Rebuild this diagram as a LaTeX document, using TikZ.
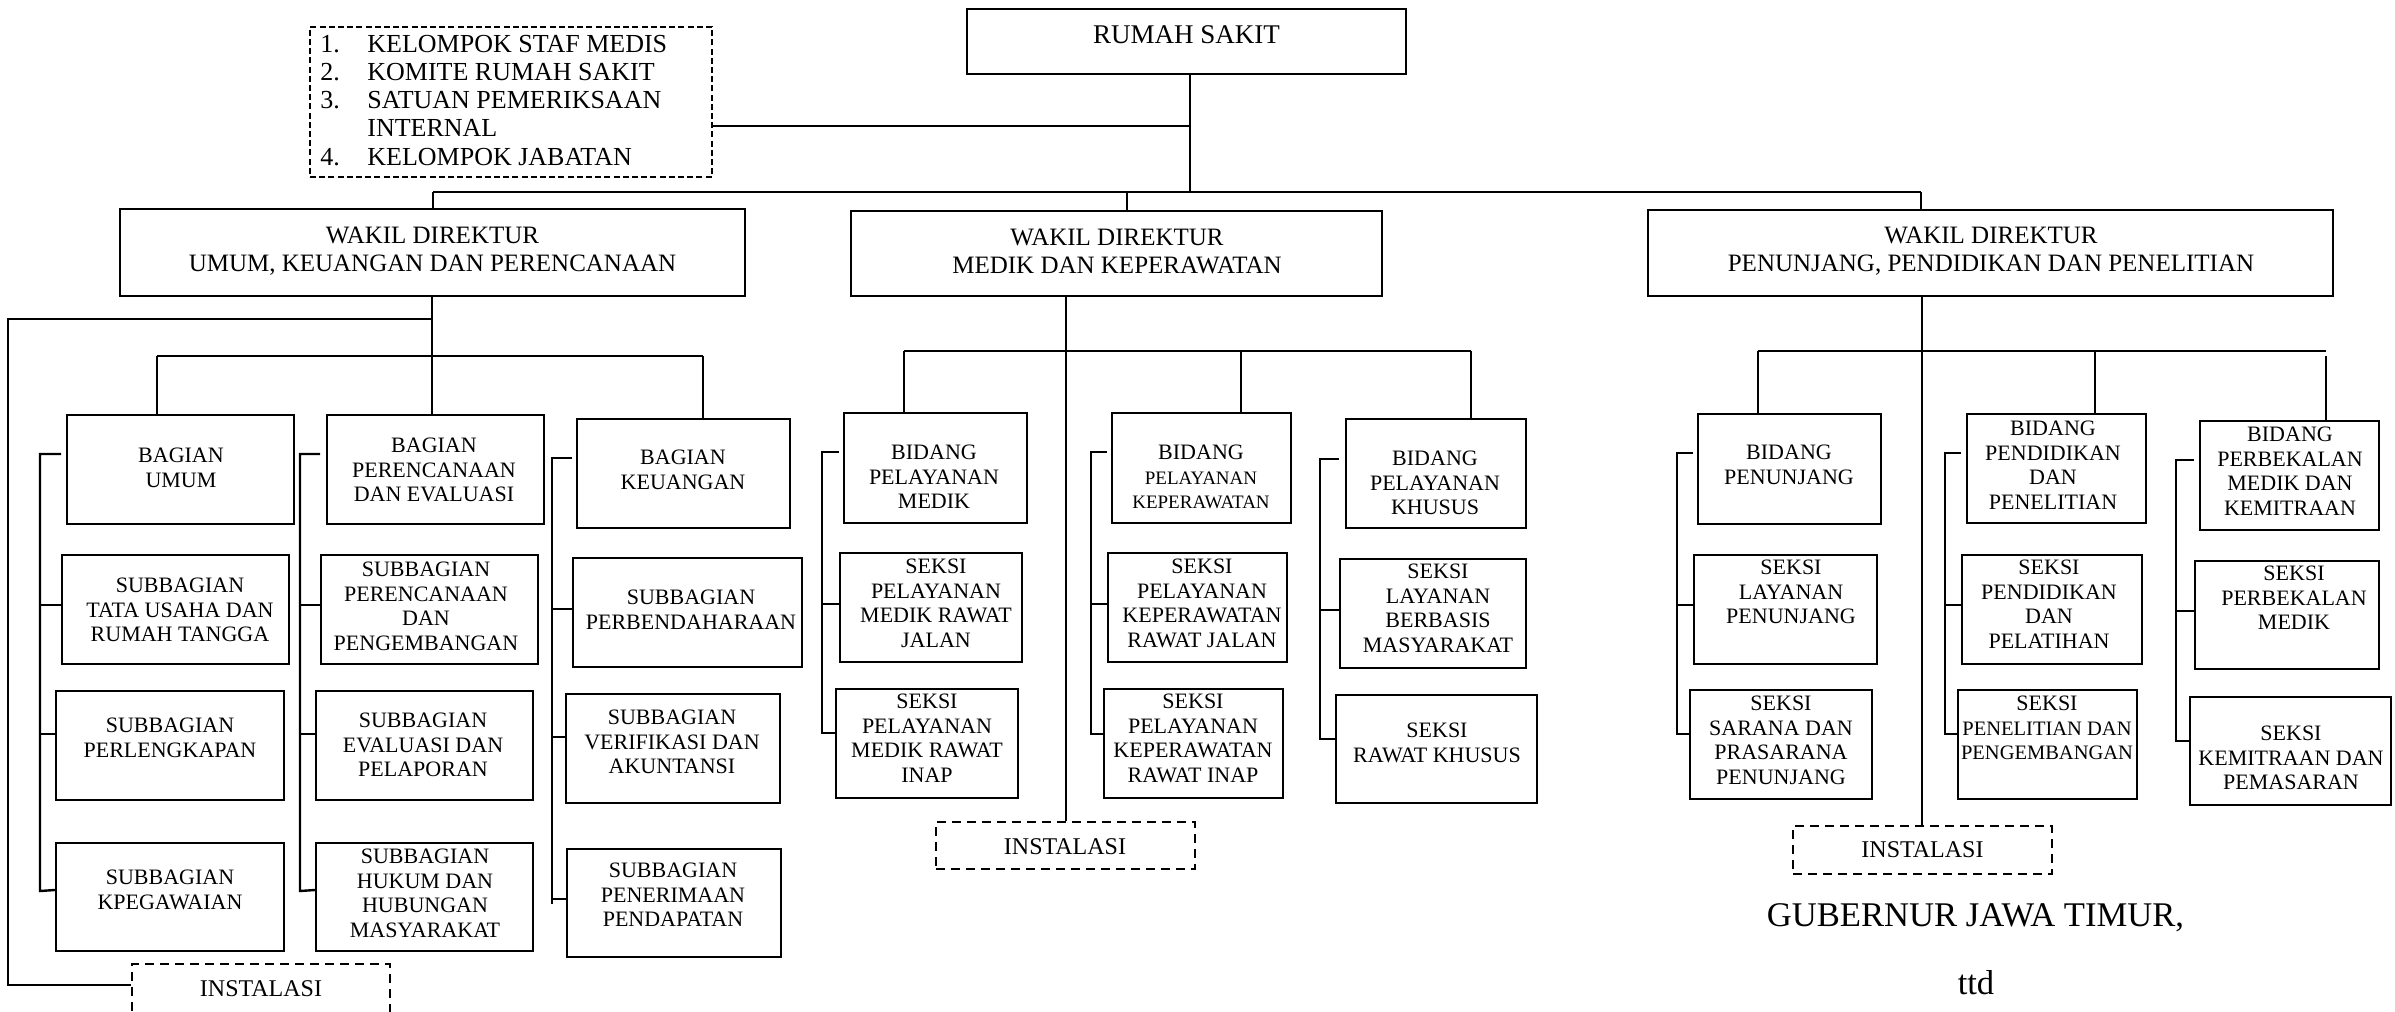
\documentclass[tikz,border=0pt]{standalone}
\usepackage{fontspec}
\setmainfont{Liberation Serif}
\usetikzlibrary{fit}
\newcommand\fsbox{\fontsize{11pt}{12.25pt}\selectfont}
\newcommand\fsmall{\fontsize{9.5pt}{11.25pt}\selectfont}
\newcommand\fsmaller{\fontsize{10.25pt}{11pt}\selectfont}
\newcommand\fswakil{\fontsize{12.5pt}{14pt}\selectfont}
\newcommand\fsrs{\fontsize{13.5pt}{15pt}\selectfont}
\newcommand\fslist{\fontsize{13pt}{14.15pt}\selectfont}
\newcommand\fsinst{\fontsize{12pt}{14pt}\selectfont}
\newcommand\fsgub{\fontsize{17.3pt}{20pt}\selectfont}
\tikzset{
  box/.style={draw, line width=1pt, inner sep=0pt},
  dlist/.style={draw, line width=0.8pt, dash pattern=on 3pt off 1.6pt, inner sep=0pt},
  dinst/.style={draw, line width=1pt, dash pattern=on 4.5pt off 3pt, inner sep=0pt},
  txt/.style={inner sep=0pt, align=center, font=\fsbox},
  conn/.style={line width=1.2pt},
}
\newcommand\obox[8]{%
  \node[box, fit={(#2,#3) (#4,#5)}] (#1) {};
  \node[txt, anchor=north] (#1-t) at (#6,#7) {#8};}
\begin{document}
\begin{tikzpicture}[x=0.5pt,y=-0.5pt]
\useasboundingbox (0,0) rectangle (2395,1012);
\fill[white] (0,0) rectangle (2395,1012);
\clip (0,0) rectangle (2395,1012);

% ---------- top level ----------
\node[box, fit={(967,9) (1406,74)}] (RS) {};
\node[txt, font=\fsrs, anchor=north] (RS-t) at (1186.5,25) {RUMAH SAKIT};

\node[dlist, fit={(310,27) (712,177)}] (list) {};
\node[anchor=north west, inner sep=0pt, align=left, font=\fslist] (list-t) at (320,34.4)
  {\makebox[23.5pt][l]{1.}KELOMPOK STAF MEDIS\\
   \makebox[23.5pt][l]{2.}KOMITE RUMAH SAKIT\\
   \makebox[23.5pt][l]{3.}SATUAN PEMERIKSAAN\\
   \makebox[23.5pt][l]{}INTERNAL\\
   \makebox[23.5pt][l]{4.}KELOMPOK JABATAN};

\node[box, fit={(120,209) (745,296)}] (W1) {};
\node[txt, font=\fswakil, anchor=north] (W1-t) at (432.5,226.5) {WAKIL DIREKTUR\\UMUM, KEUANGAN DAN PERENCANAAN};
\node[box, fit={(851,211) (1382,296)}] (W2) {};
\node[txt, font=\fswakil, anchor=north] (W2-t) at (1117,228.5) {WAKIL DIREKTUR\\MEDIK DAN KEPERAWATAN};
\node[box, fit={(1648,210) (2333,296)}] (W3) {};
\node[txt, font=\fswakil, anchor=north] (W3-t) at (1991,226.5) {WAKIL DIREKTUR\\PENUNJANG, PENDIDIKAN DAN PENELITIAN};

\coordinate (t1) at (1190,192);
\coordinate (tl) at (1190,126);
\coordinate (bL) at (433,192);
\coordinate (d2) at (1127,192);
\coordinate (bR) at (1921,192);
\draw[conn] (RS.south -| t1) -- (t1);
\draw[conn] (list.east |- tl) -- (tl);
\draw[conn] (bL) -- (bR);
\draw[conn] (bL) -- (W1.north -| bL);
\draw[conn] (d2) -- (W2.north -| d2);
\draw[conn] (bR) -- (W3.north -| bR);

% ---------- left branch ----------
\obox{BU}{67}{415}{294}{524}{181}{448}{BAGIAN\\UMUM}
\obox{SA1}{62}{555}{289}{664}{180}{578}{SUBBAGIAN\\TATA USAHA DAN\\RUMAH TANGGA}
\obox{SA2}{56}{691}{284}{800}{170}{718}{SUBBAGIAN\\PERLENGKAPAN}
\obox{SA3}{56}{843}{284}{951}{170}{870}{SUBBAGIAN\\KPEGAWAIAN}
\obox{BP}{327}{415}{544}{524}{434}{438}{BAGIAN\\PERENCANAAN\\DAN EVALUASI}
\obox{SB1}{321}{555}{538}{664}{426}{562}{SUBBAGIAN\\PERENCANAAN\\DAN\\PENGEMBANGAN}
\obox{SB2}{316}{691}{533}{800}{423}{713}{SUBBAGIAN\\EVALUASI DAN\\PELAPORAN}
\obox{SB3}{316}{843}{533}{951}{425}{849}{SUBBAGIAN\\HUKUM DAN\\HUBUNGAN\\MASYARAKAT}
\obox{BK}{577}{419}{790}{528}{683}{450}{BAGIAN\\KEUANGAN}
\obox{SC1}{573}{558}{802}{667}{691}{590}{SUBBAGIAN\\PERBENDAHARAAN}
\obox{SC2}{566}{694}{780}{803}{672}{710}{SUBBAGIAN\\VERIFIKASI DAN\\AKUNTANSI}
\obox{SC3}{567}{849}{781}{957}{673}{863}{SUBBAGIAN\\PENERIMAAN\\PENDAPATAN}

\node[dinst, fit={(132,964) (390,1040)}] (IL) {};
\node[txt, font=\fsinst, anchor=north] (IL-t) at (261,980) {INSTALASI};

\coordinate (a0) at (432,356);
\coordinate (aL) at (157,356);
\coordinate (aR) at (703,356);
\coordinate (i1) at (432,319);
\coordinate (i2) at (8,319);
\coordinate (i3) at (8,985);
\draw[conn] (W1.south -| a0) -- (a0);
\draw[conn] (aL) -- (aR);
\draw[conn] (aL) -- (BU.north -| aL);
\draw[conn] (a0) -- (BP.north -| a0);
\draw[conn] (aR) -- (BK.north -| aR);
\draw[conn] (i1) -- (i2) -- (i3) -- (IL.west |- i3);

\draw[conn] (SA1.west |- 40,454) -- (40,454) -- (40,891) -- (SA3.west |- 40,890);
\draw[conn] (40,605) -- (SA1.west |- 40,605);
\draw[conn] (40,734) -- (SA2.west |- 40,734);
\draw[conn] (SB1.west |- 300,454) -- (300,454) -- (300,891) -- (SB3.west |- 300,890);
\draw[conn] (300,605) -- (SB1.west |- 300,605);
\draw[conn] (300,734) -- (SB2.west |- 300,734);
\draw[conn] (SC1.west |- 552,458) -- (552,458) -- (552,904);
\draw[conn] (552,609) -- (SC1.west |- 552,609);
\draw[conn] (552,737) -- (SC2.west |- 552,737);
\draw[conn] (552,899) -- (SC3.west |- 552,899);

% ---------- middle branch ----------
\obox{BM}{844}{413}{1027}{523}{934}{445}{BIDANG\\PELAYANAN\\MEDIK}
\obox{M11}{840}{553}{1022}{662}{936}{559}{SEKSI\\PELAYANAN\\MEDIK RAWAT\\JALAN}
\obox{M12}{836}{689}{1018}{798}{927}{694}{SEKSI\\PELAYANAN\\MEDIK RAWAT\\INAP}
\obox{BKp}{1112}{413}{1291}{523}{1201}{445}{BIDANG\\\fsmall PELAYANAN\\\fsmall KEPERAWATAN}
\obox{M21}{1108}{553}{1287}{662}{1202}{559}{SEKSI\\PELAYANAN\\KEPERAWATAN\\RAWAT JALAN}
\obox{M22}{1104}{689}{1283}{798}{1193}{694}{SEKSI\\PELAYANAN\\KEPERAWATAN\\RAWAT INAP}
\obox{BKh}{1346}{419}{1526}{528}{1435}{451}{BIDANG\\PELAYANAN\\KHUSUS}
\obox{M31}{1340}{559}{1526}{668}{1438}{564}{SEKSI\\LAYANAN\\BERBASIS\\MASYARAKAT}
\obox{M32}{1336}{695}{1537}{803}{1437}{723}{SEKSI\\RAWAT KHUSUS}

\node[dinst, fit={(936,822) (1195,869)}] (IM) {};
\node[txt, font=\fsinst, anchor=north] (IM-t) at (1065,838) {INSTALASI};

\coordinate (m0) at (1066,351);
\coordinate (mL) at (904,351);
\coordinate (mC) at (1241,351);
\coordinate (mR) at (1471,351);
\draw[conn] (W2.south -| m0) -- (IM.north -| m0);
\draw[conn] (mL) -- (mR);
\draw[conn] (mL) -- (BM.north -| mL);
\draw[conn] (mC) -- (BKp.north -| mC);
\draw[conn] (mR) -- (BKh.north -| mR);

\draw[conn] (M11.west |- 822,452) -- (822,452) -- (822,733) -- (M12.west |- 822,733);
\draw[conn] (822,604) -- (M11.west |- 822,604);
\draw[conn] (M21.west |- 1091,452) -- (1091,452) -- (1091,734) -- (M22.west |- 1091,734);
\draw[conn] (1091,604) -- (M21.west |- 1091,604);
\draw[conn] (M31.west |- 1320,459) -- (1320,459) -- (1320,739) -- (M32.west |- 1320,739);
\draw[conn] (1320,610) -- (M31.west |- 1320,610);

% ---------- right branch ----------
\obox{BPn}{1698}{414}{1881}{524}{1789}{445}{BIDANG\\PENUNJANG}
\obox{R11}{1694}{555}{1877}{664}{1791}{560}{SEKSI\\LAYANAN\\PENUNJANG}
\obox{R12}{1690}{690}{1872}{799}{1781}{696}{SEKSI\\SARANA DAN\\PRASARANA\\PENUNJANG}
\obox{BPd}{1967}{414}{2146}{523}{2053}{421}{BIDANG\\PENDIDIKAN\\DAN\\PENELITIAN}
\obox{R21}{1962}{555}{2142}{664}{2049}{560}{SEKSI\\PENDIDIKAN\\DAN\\PELATIHAN}
\obox{R22}{1958}{690}{2137}{799}{2047}{696}{SEKSI\\\fsmaller PENELITIAN DAN\\\fsmaller PENGEMBANGAN}
\obox{BPb}{2200}{421}{2379}{530}{2290}{427}{BIDANG\\PERBEKALAN\\MEDIK DAN\\KEMITRAAN}
\obox{R31}{2195}{561}{2379}{669}{2294}{566}{SEKSI\\PERBEKALAN\\MEDIK}
\obox{R32}{2190}{697}{2391}{805}{2291}{726}{SEKSI\\KEMITRAAN DAN\\PEMASARAN}

\node[dinst, fit={(1793,826) (2052,874)}] (IR) {};
\node[txt, font=\fsinst, anchor=north] (IR-t) at (1922.5,841) {INSTALASI};

\coordinate (r0) at (1922,351);
\coordinate (rL) at (1758,351);
\coordinate (rC) at (2095,351);
\coordinate (rR) at (2326,351);
\coordinate (rR2) at (2326,356);
\draw[conn] (W3.south -| r0) -- (IR.north -| r0);
\draw[conn] (rL) -- (rR);
\draw[conn] (rL) -- (BPn.north -| rL);
\draw[conn] (rC) -- (BPd.north -| rC);
\draw[conn] (rR2) -- (BPb.north -| rR2);

\draw[conn] (R11.west |- 1677,453) -- (1677,453) -- (1677,734) -- (R12.west |- 1677,734);
\draw[conn] (1677,605) -- (R11.west |- 1677,605);
\draw[conn] (R21.west |- 1945,453) -- (1945,453) -- (1945,734) -- (R22.west |- 1945,734);
\draw[conn] (1945,605) -- (R21.west |- 1945,605);
\draw[conn] (R31.west |- 2176,460) -- (2176,460) -- (2176,741) -- (R32.west |- 2176,741);
\draw[conn] (2176,611) -- (R31.west |- 2176,611);

\node[anchor=base, inner sep=0pt, font=\fsgub] (gub) at (1975.5,926) {GUBERNUR JAWA TIMUR,};
\node[anchor=base, inner sep=0pt, font=\fsgub] (ttd) at (1976,994) {ttd};
\end{tikzpicture}
\end{document}
